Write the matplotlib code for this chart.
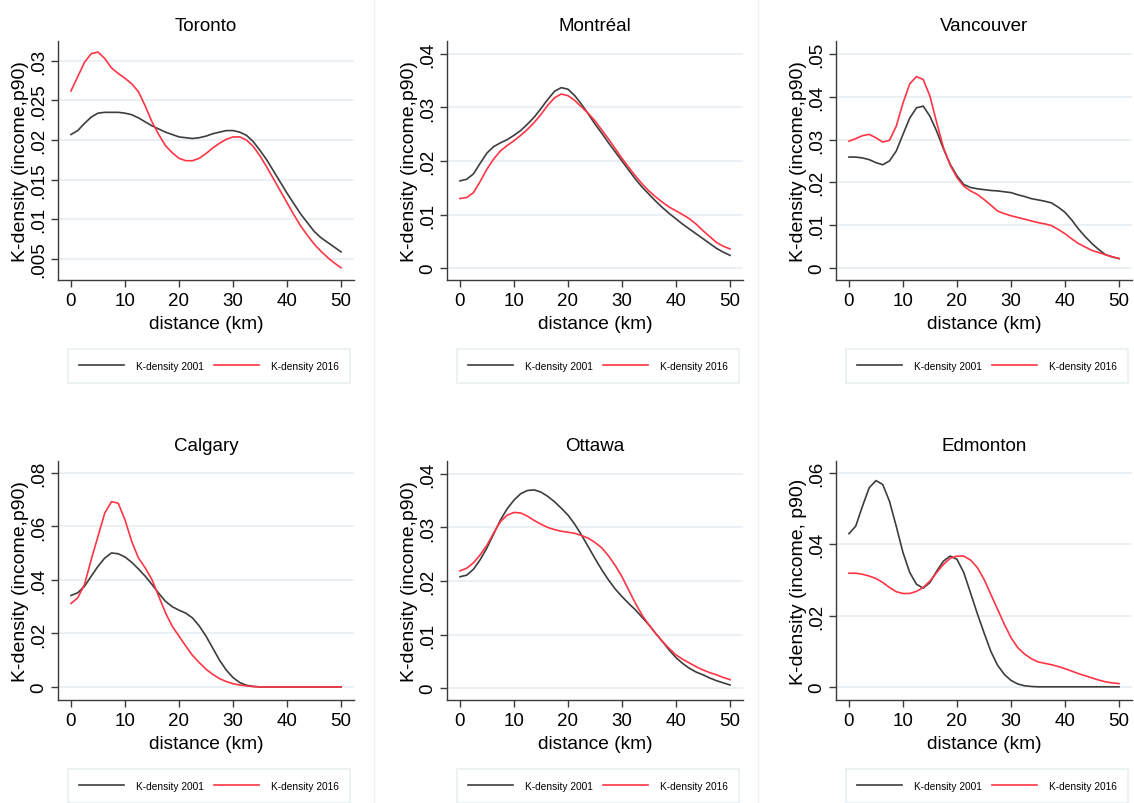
import matplotlib.pyplot as plt
from matplotlib.lines import Line2D

plt.rcParams['font.family'] = ['Liberation Sans', 'DejaVu Sans']

# distance grid (km), read every 1.25 km from 0 to 50
distance = [i * 1.25 for i in range(41)]

toronto_2001 = [0.0207, 0.0212, 0.0221, 0.0229, 0.0234, 0.0235, 0.0235, 0.0235, 0.0234, 0.0232, 0.0228,
                0.0223, 0.0218, 0.0214, 0.0210, 0.0207, 0.0204, 0.0203, 0.0202, 0.0203, 0.0205,
                0.0208, 0.0210, 0.0212, 0.0212, 0.0210, 0.0206, 0.0198, 0.0187, 0.0175, 0.0161,
                0.0147, 0.0133, 0.0120, 0.0107, 0.0096, 0.0085, 0.0077, 0.0071, 0.0065, 0.0059]
toronto_2016 = [0.0262, 0.0280, 0.0298, 0.0309, 0.0311, 0.0303, 0.0291, 0.0284, 0.0278, 0.0271, 0.0261,
                0.0243, 0.0223, 0.0207, 0.0193, 0.0184, 0.0177, 0.0174, 0.0174, 0.0177, 0.0183,
                0.0190, 0.0196, 0.0201, 0.0204, 0.0204, 0.0200, 0.0192, 0.0180, 0.0166, 0.0151,
                0.0136, 0.0121, 0.0106, 0.0092, 0.0080, 0.0069, 0.0060, 0.0052, 0.0045, 0.0039]

montreal_2001 = [0.0163, 0.0166, 0.0176, 0.0196, 0.0215, 0.0227, 0.0234, 0.0240, 0.0248, 0.0257, 0.0269,
                 0.0282, 0.0298, 0.0315, 0.0330, 0.0337, 0.0334, 0.0322, 0.0306, 0.0288, 0.0269,
                 0.0252, 0.0234, 0.0217, 0.0200, 0.0183, 0.0166, 0.0151, 0.0138, 0.0125, 0.0113,
                 0.0102, 0.0092, 0.0082, 0.0073, 0.0064, 0.0055, 0.0046, 0.0037, 0.0030, 0.0024]
montreal_2016 = [0.0130, 0.0132, 0.0141, 0.0162, 0.0185, 0.0204, 0.0219, 0.0229, 0.0238, 0.0248, 0.0259,
                 0.0272, 0.0287, 0.0304, 0.0318, 0.0325, 0.0322, 0.0313, 0.0301, 0.0289, 0.0275,
                 0.0258, 0.0241, 0.0223, 0.0205, 0.0188, 0.0172, 0.0157, 0.0144, 0.0133, 0.0123,
                 0.0114, 0.0107, 0.0100, 0.0092, 0.0082, 0.0070, 0.0059, 0.0048, 0.0041, 0.0036]

vancouver_2001 = [0.0259, 0.0259, 0.0257, 0.0253, 0.0246, 0.0241, 0.0250, 0.0273, 0.0312, 0.0350, 0.0374,
                  0.0378, 0.0354, 0.0319, 0.0278, 0.0242, 0.0215, 0.0195, 0.0188, 0.0185, 0.0183,
                  0.0181, 0.0180, 0.0178, 0.0176, 0.0171, 0.0167, 0.0162, 0.0159, 0.0156, 0.0152,
                  0.0142, 0.0130, 0.0112, 0.0091, 0.0073, 0.0057, 0.0043, 0.0031, 0.0026, 0.0022]
vancouver_2016 = [0.0296, 0.0302, 0.0309, 0.0312, 0.0304, 0.0294, 0.0298, 0.0331, 0.0385, 0.0430, 0.0447,
                  0.0440, 0.0401, 0.0339, 0.0281, 0.0240, 0.0211, 0.0191, 0.0180, 0.0172, 0.0160,
                  0.0147, 0.0133, 0.0127, 0.0122, 0.0118, 0.0114, 0.0110, 0.0106, 0.0103, 0.0099,
                  0.0090, 0.0080, 0.0068, 0.0057, 0.0049, 0.0041, 0.0036, 0.0031, 0.0026, 0.0022]

calgary_2001 = [0.0342, 0.0352, 0.0376, 0.0414, 0.0451, 0.0482, 0.0501, 0.0498, 0.0486, 0.0466, 0.0441,
                0.0414, 0.0383, 0.0350, 0.0320, 0.0300, 0.0287, 0.0276, 0.0258, 0.0228, 0.0190,
                0.0145, 0.0100, 0.0063, 0.0035, 0.0016, 0.0006, 0.0002, 0.0, 0.0, 0.0,
                0.0, 0.0, 0.0, 0.0, 0.0, 0.0, 0.0, 0.0, 0.0, 0.0]
calgary_2016 = [0.0312, 0.0333, 0.0383, 0.0476, 0.0563, 0.0650, 0.0693, 0.0687, 0.0625, 0.0544, 0.0482,
                0.0445, 0.0401, 0.0339, 0.0277, 0.0227, 0.0190, 0.0153, 0.0118, 0.0091, 0.0066,
                0.0047, 0.0031, 0.0020, 0.0012, 0.0007, 0.0004, 0.0001, 0.0, 0.0, 0.0,
                0.0, 0.0, 0.0, 0.0, 0.0, 0.0, 0.0, 0.0, 0.0, 0.0]

ottawa_2001 = [0.0208, 0.0211, 0.0222, 0.0240, 0.0262, 0.0288, 0.0314, 0.0335, 0.0351, 0.0363, 0.0369,
               0.0370, 0.0366, 0.0358, 0.0348, 0.0336, 0.0323, 0.0306, 0.0286, 0.0264, 0.0242,
               0.0221, 0.0202, 0.0185, 0.0171, 0.0158, 0.0146, 0.0132, 0.0118, 0.0102, 0.0087,
               0.0071, 0.0057, 0.0046, 0.0037, 0.0030, 0.0025, 0.0019, 0.0014, 0.0010, 0.0006]
ottawa_2016 = [0.0219, 0.0224, 0.0234, 0.0249, 0.0267, 0.0290, 0.0311, 0.0323, 0.0328, 0.0327, 0.0321,
               0.0313, 0.0306, 0.0300, 0.0296, 0.0293, 0.0291, 0.0289, 0.0285, 0.0280, 0.0272,
               0.0262, 0.0247, 0.0229, 0.0208, 0.0183, 0.0158, 0.0136, 0.0118, 0.0102, 0.0087,
               0.0074, 0.0062, 0.0054, 0.0047, 0.0040, 0.0034, 0.0029, 0.0025, 0.0020, 0.0016]

edmonton_2001 = [0.0430, 0.0451, 0.0507, 0.0559, 0.0579, 0.0568, 0.0521, 0.0451, 0.0377, 0.0321, 0.0288,
                 0.0277, 0.0293, 0.0325, 0.0353, 0.0367, 0.0358, 0.0321, 0.0264, 0.0206, 0.0152,
                 0.0100, 0.0061, 0.0035, 0.0018, 0.0008, 0.0003, 0.0001, 0.0, 0.0, 0.0,
                 0.0, 0.0, 0.0, 0.0, 0.0, 0.0, 0.0, 0.0, 0.0, 0.0]
edmonton_2016 = [0.0319, 0.0319, 0.0316, 0.0311, 0.0304, 0.0293, 0.0279, 0.0267, 0.0262, 0.0262, 0.0268,
                 0.0279, 0.0297, 0.0321, 0.0344, 0.0361, 0.0367, 0.0367, 0.0356, 0.0335, 0.0302,
                 0.0260, 0.0218, 0.0176, 0.0138, 0.0110, 0.0092, 0.0079, 0.0070, 0.0066, 0.0062,
                 0.0057, 0.0051, 0.0044, 0.0037, 0.0031, 0.0025, 0.0019, 0.0014, 0.0011, 0.0009]

cities = ['Toronto', 'Montréal', 'Vancouver', 'Calgary', 'Ottawa', 'Edmonton']
series_2001 = [toronto_2001, montreal_2001, vancouver_2001, calgary_2001, ottawa_2001, edmonton_2001]
series_2016 = [toronto_2016, montreal_2016, vancouver_2016, calgary_2016, ottawa_2016, edmonton_2016]

ytick_vals = [[0.005, 0.01, 0.015, 0.02, 0.025, 0.03],
              [0, 0.01, 0.02, 0.03, 0.04],
              [0, 0.01, 0.02, 0.03, 0.04, 0.05],
              [0, 0.02, 0.04, 0.06, 0.08],
              [0, 0.01, 0.02, 0.03, 0.04],
              [0, 0.02, 0.04, 0.06]]
ytick_text = [['.005', '.01', '.015', '.02', '.025', '.03'],
              ['0', '.01', '.02', '.03', '.04'],
              ['0', '.01', '.02', '.03', '.04', '.05'],
              ['0', '.02', '.04', '.06', '.08'],
              ['0', '.01', '.02', '.03', '.04'],
              ['0', '.02', '.04', '.06']]
ylims = [(0.00235, 0.0325), (-0.0022, 0.0424), (-0.0028, 0.053),
         (-0.0049, 0.0845), (-0.0022, 0.0424), (-0.0037, 0.0634)]
ylabels = ['K-density (income,p90)'] * 5 + ['K-density (income, p90)']
xticks = [0, 10, 20, 30, 40, 50]

W, H = 1134, 804
fig = plt.figure(figsize=(W / 100, H / 100), dpi=100)

lefts = [58, 447, 836]
tops = [42, 462]
aw, ah = 296, 239
dark = '#3d3d3d'
red = '#ff3545'

for i, city in enumerate(cities):
    r, c = divmod(i, 3)
    ax = fig.add_axes([lefts[c] / W, 1 - (tops[r] + ah) / H, aw / W, ah / H])
    ax.plot(distance, series_2001[i], color=dark, lw=1.2, label='K-density 2001')
    ax.plot(distance, series_2016[i], color=red, lw=1.2, label='K-density 2016')
    ax.set_xlim(-2.4, 52.4)
    ax.set_ylim(*ylims[i])
    ax.set_xticks(xticks)
    ax.set_yticks(ytick_vals[i])
    ax.set_yticklabels(ytick_text[i], rotation=90, va='center')
    ax.grid(axis='y', color='#e6eef1', lw=1.2)
    ax.set_axisbelow(True)
    for s in ['top', 'right']:
        ax.spines[s].set_visible(False)
    for s in ['left', 'bottom']:
        ax.spines[s].set_color('#3a3a3a')
        ax.spines[s].set_linewidth(1.0)
    ax.tick_params(axis='both', colors='#3a3a3a', labelcolor='black', labelsize=13.5,
                   length=5, width=1.0)
    ax.tick_params(axis='y', pad=3)
    ax.tick_params(axis='x', pad=4)
    ax.set_ylabel(ylabels[i], fontsize=14, va='center')
    ax.yaxis.set_label_coords(-0.128, 0.5)
    ax.set_xlabel('distance (km)', fontsize=13.8, va='center')
    ax.xaxis.set_label_coords(0.5, -0.184)
    ax.text(0.5, 1.063, city, transform=ax.transAxes, ha='center', va='center', fontsize=13.5)
    leg = ax.legend(loc='center', ncol=2, bbox_to_anchor=(0.51, -0.36),
                    fontsize=7.3, handlelength=4.4, handletextpad=1.2, columnspacing=1.0,
                    borderpad=1.15, borderaxespad=0, fancybox=False, frameon=True)
    leg.get_frame().set_edgecolor('#e3eaee')
    leg.get_frame().set_linewidth(1.2)

# faint separators between the panels
for xp in [374, 758]:
    fig.add_artist(Line2D([xp / W, xp / W], [0, 1], color='#f0f0f0', lw=1))

fig.savefig('out.png', dpi=100)
